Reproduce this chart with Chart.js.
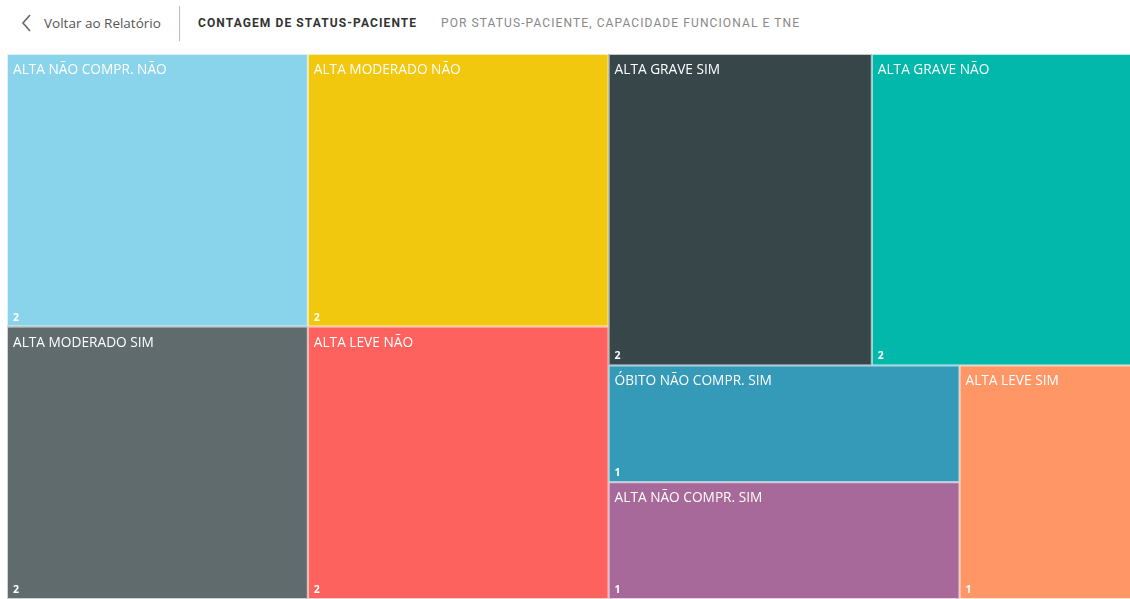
<!DOCTYPE html>
<html>
<head>
<meta charset="utf-8">
<script src="https://cdn.jsdelivr.net/npm/chart.js@4.4.1/dist/chart.umd.min.js"></script>
<style>
  html, body { margin: 0; padding: 0; background: #fff; overflow: hidden; width: 1130px; height: 599px; }
  .header { position: absolute; left: 0; top: 0; width: 1130px; height: 48px; font-family: "Open Sans", sans-serif; }
  .back { position: absolute; left: 20px; top: 12px; font-size: 13.5px; color: #555; }
  .back svg { position: absolute; left: 0; top: 1px; }
  .back span { position: absolute; left: 24px; top: 2px; white-space: nowrap; }
  .divider { position: absolute; left: 179px; top: 6px; width: 1px; height: 35px; background: #bbb; }
  .title { position: absolute; left: 198px; top: 16px; font-family: Roboto, sans-serif; font-size: 12px; font-weight: bold; letter-spacing: 1.1px; color: #333; white-space: nowrap; }
  .subtitle { position: absolute; left: 441px; top: 16px; font-family: Roboto, sans-serif; font-size: 12px; letter-spacing: 1.1px; color: #888; white-space: nowrap; }
  .wrap { position: absolute; left: 7px; top: 54px; width: 1128px; height: 545px; }
</style>
</head>
<body>
<div class="header">
  <div class="back">
    <svg width="14" height="20" viewBox="0 0 14 20"><polyline points="10,2 3,10 10,18" fill="none" stroke="#666" stroke-width="1.6"/></svg>
    <span>Voltar ao Relatório</span>
  </div>
  <div class="divider"></div>
  <div class="title">CONTAGEM DE STATUS-PACIENTE</div>
  <div class="subtitle">POR STATUS-PACIENTE, CAPACIDADE FUNCIONAL E TNE</div>
</div>
<div class="wrap"><canvas id="myChart"></canvas></div>
<script>
// Treemap cells (count of patients per status / capacity / TNE)
const labels = ['ALTA NÃO COMPR. NÃO', 'ALTA MODERADO SIM', 'ALTA MODERADO NÃO', 'ALTA LEVE NÃO',
                'ALTA GRAVE SIM', 'ALTA GRAVE NÃO', 'ÓBITO NÃO COMPR. SIM', 'ALTA NÃO COMPR. SIM', 'ALTA LEVE SIM'];
const counts = [2, 2, 2, 2, 2, 2, 1, 1, 1];
const colors = ['#8AD4EB', '#5F6B6D', '#F2C80F', '#FD625E', '#374649', '#01B8AA', '#3599B8', '#A66999', '#FE9666'];

// How the cells are grouped (h = side by side, v = stacked); leaves are indexes into the arrays above
const groups = { dir: 'h', items: [
    { dir: 'h', items: [ { dir: 'v', items: [0, 1] }, { dir: 'v', items: [2, 3] } ] },
    { dir: 'v', items: [
        { dir: 'h', items: [4, 5] },
        { dir: 'h', items: [ { dir: 'v', items: [6, 7] }, 8 ] }
    ] }
] };

function total(node) {
    if (typeof node === 'number') return counts[node];
    return node.items.reduce((s, n) => s + total(n), 0);
}

// split the box proportionally to the counts
function layout(node, x0, y0, x1, y1, out) {
    if (typeof node === 'number') {
        out.push({ i: node, x0, y0, x1, y1 });
        return out;
    }
    const sum = total(node);
    let pos = node.dir === 'h' ? x0 : y0;
    node.items.forEach(n => {
        const f = total(n) / sum;
        if (node.dir === 'h') {
            const w = (x1 - x0) * f;
            layout(n, pos, y0, pos + w, y1, out);
            pos += w;
        } else {
            const h = (y1 - y0) * f;
            layout(n, x0, pos, x1, pos + h, out);
            pos += h;
        }
    });
    return out;
}

const cells = layout(groups, 0, 0, 1, 1, []);

const treemapPlugin = {
    id: 'treemap',
    afterDatasetsDraw(chart) {
        const { ctx, scales: { x, y } } = chart;
        ctx.save();
        cells.forEach(c => {
            const left = x.getPixelForValue(c.x0), right = x.getPixelForValue(c.x1);
            const top = y.getPixelForValue(c.y0), bottom = y.getPixelForValue(c.y1);
            ctx.fillStyle = colors[c.i];
            ctx.fillRect(left, top, right - left, bottom - top);
            ctx.strokeStyle = 'rgba(255,255,255,0.7)';
            ctx.lineWidth = 1;
            ctx.strokeRect(left + 0.5, top + 0.5, right - left - 1, bottom - top - 1);

            ctx.save();
            ctx.beginPath();
            ctx.rect(left, top, right - left, bottom - top);
            ctx.clip();
            ctx.fillStyle = '#fff';
            ctx.textBaseline = 'alphabetic';
            ctx.font = '13.7px "Open Sans", sans-serif';
            ctx.fillText(labels[c.i], left + 6, top + 20);
            ctx.font = 'bold 10.5px "Open Sans", sans-serif';
            ctx.fillText(String(counts[c.i]), left + 6, bottom - 6);
            ctx.restore();
        });
        ctx.restore();
    }
};

const ctx = document.getElementById('myChart').getContext('2d');
const myChart = new Chart(ctx, {
    type: 'scatter',
    data: {
        datasets: [{ label: 'Contagem de Status-Paciente', data: [], pointRadius: 0 }]
    },
    options: {
        responsive: true,
        maintainAspectRatio: false,
        animation: false,
        layout: { padding: 0 },
        plugins: { legend: { display: false }, tooltip: { enabled: false } },
        scales: {
            x: { type: 'linear', min: 0, max: 1, display: false },
            y: { type: 'linear', min: 0, max: 1, reverse: true, display: false }
        }
    },
    plugins: [treemapPlugin]
});
</script>
</body>
</html>
